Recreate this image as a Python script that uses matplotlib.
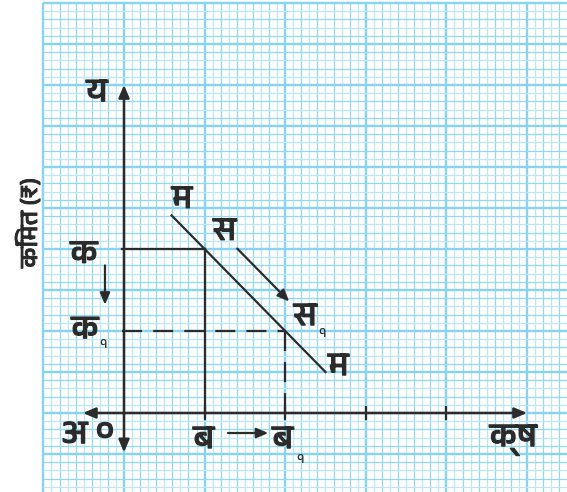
import matplotlib
matplotlib.use("Agg")
import matplotlib.pyplot as plt
import matplotlib.patheffects as pe
from matplotlib import font_manager as fm
from matplotlib.ft2font import FT2Font

# ---------------- data ----------------
price_levels = [20, 10]          # क, क१
quantity_levels = [10, 20]       # ब, ब१
axis_ticks_x = [10, 20, 30, 40]
demand_x = [5.9, 25.0]           # म ... म  (x + y = 30)
demand_y = [24.1, 5.0]
shift_start = [14.05, 20.05]     # स -> स१
shift_end = [20.5, 13.6]
y_label = "किंमत (₹)"
label_origin = "अ"
label_zero = "०"
label_y = "य"
label_x = "क्ष"
label_demand = "म"
label_shift = "स"
label_shift1 = "स"
label_p = "क"
label_q = "ब"
sub_one = "१"

# ---------------- fonts ----------------
def find_font(ch):
    cands = []
    for f in fm.fontManager.ttflist:
        try:
            ft = FT2Font(f.fname)
            if ord(ch) in ft.get_charmap():
                cands.append(f.name)
        except Exception:
            pass
    for c in cands:
        if "Devanagari" in c:
            return c
    return cands[0] if cands else None

deva = find_font("क")
fams = ([deva] if deva else []) + ["DejaVu Sans"]
plt.rcParams["font.family"] = fams

# ---------------- figure ----------------
W, H = 567, 492
fig = plt.figure(figsize=(W / 100, H / 100), dpi=100)
ax = fig.add_axes([0, 0, 1, 1])
ux, uy = 8.06, 8.2
ox, oy = 124, 413
ax.set_xlim(-ox / ux, (W - ox) / ux)
ax.set_ylim(-(H - oy) / uy, oy / uy)
ax.axis("off")

# graph paper
gx0, gx1 = -10, (W - ox) / ux
gy0, gy1 = -(H - oy) / uy, 50
c_major, c_minor, c_light = "#86d3f3", "#92d8f5", "#bde7f9"
for i in range(-10, 55):
    major = (i % 10 == 0)
    ax.plot([i, i], [gy0, gy1], color=c_major if major else (c_minor if i % 2 == 0 else c_light),
            lw=1.7 if major else 0.9, zorder=1, solid_capstyle="butt")
for j in range(-9, 51):
    major = (j % 5 == 0)
    ax.plot([gx0, gx1], [j, j], color=c_major if major else (c_minor if j % 2 == 0 else c_light),
            lw=1.7 if major else 0.9, zorder=1, solid_capstyle="butt")

ink = "#2b2b2b"
arrow_kw = dict(arrowstyle="-|>,head_length=0.7,head_width=0.3", color=ink, lw=1.6,
                shrinkA=0, shrinkB=0)

# axes
ax.annotate("", xy=(50, 0), xytext=(-5.1, 0), arrowprops=dict(arrowstyle="<|-|>,head_length=0.75,head_width=0.32",
            color=ink, lw=1.8, shrinkA=0, shrinkB=0), zorder=3)
ax.annotate("", xy=(0, 40), xytext=(0, -4.8), arrowprops=dict(arrowstyle="<|-|>,head_length=0.75,head_width=0.32",
            color=ink, lw=1.8, shrinkA=0, shrinkB=0), zorder=3)
for t in axis_ticks_x:
    ax.plot([t, t], [-0.7, 0.7], color=ink, lw=1.6, zorder=3)

# price / quantity guides
ax.plot([-0.3, quantity_levels[0]], [price_levels[0]] * 2, color=ink, lw=1.6, zorder=3)
ax.plot([quantity_levels[0]] * 2, [price_levels[0], 0], color=ink, lw=1.6, zorder=3)
ax.plot([-0.3, quantity_levels[1]], [price_levels[1]] * 2, color=ink, lw=1.6, zorder=3,
        dashes=(9, 5))
ax.plot([quantity_levels[1]] * 2, [price_levels[1], 0], color=ink, lw=1.6, zorder=3,
        dashes=(9, 5))

# demand line
ax.plot(demand_x, demand_y, color=ink, lw=1.6, zorder=3)
ax.annotate("", xy=shift_end, xytext=shift_start, arrowprops=arrow_kw, zorder=3)

# small arrows
ax.annotate("", xy=(-2.36, 13.2), xytext=(-2.36, 18.0), arrowprops=arrow_kw, zorder=3)
ax.annotate("", xy=(17.9, -2.44), xytext=(12.9, -2.44), arrowprops=arrow_kw, zorder=3)

bold = [pe.withStroke(linewidth=0.9, foreground=ink)]
fs = 24
tk = dict(color=ink, fontsize=fs, ha="center", va="center", zorder=4, path_effects=bold)
sk = dict(color=ink, fontsize=10, ha="center", va="center", zorder=4)
ax.text(-3.35, 39.0, label_y, **tk)
ax.text(48.3, -3.3, label_x, **tk)
ax.text(7.2, 26.0, label_demand, **tk)
ax.text(26.6, 5.6, label_demand, **tk)
ax.text(12.5, 22.1, label_shift, **tk)
ax.text(22.5, 11.7, label_shift1, **tk)
ax.text(24.6, 9.75, sub_one, **sk)
ax.text(-4.96, 19.3, label_p, **tk)
ax.text(-4.84, 10.1, label_p, **tk)
ax.text(-2.6, 8.3, sub_one, **sk)
ax.text(-6.1, -2.7, label_origin, **tk)
ax.text(-2.36, -2.4, label_zero, **tk)
ax.text(9.9, -3.3, label_q, **tk)
ax.text(19.7, -3.3, label_q, **tk)
ax.text(21.8, -5.7, sub_one, **sk)

fig.text(28 / W, 1 - 223 / H, y_label, rotation=90, ha="center", va="center",
         fontsize=18, color=ink, path_effects=[pe.withStroke(linewidth=0.7, foreground=ink)])

fig.savefig("out.png", dpi=100)
